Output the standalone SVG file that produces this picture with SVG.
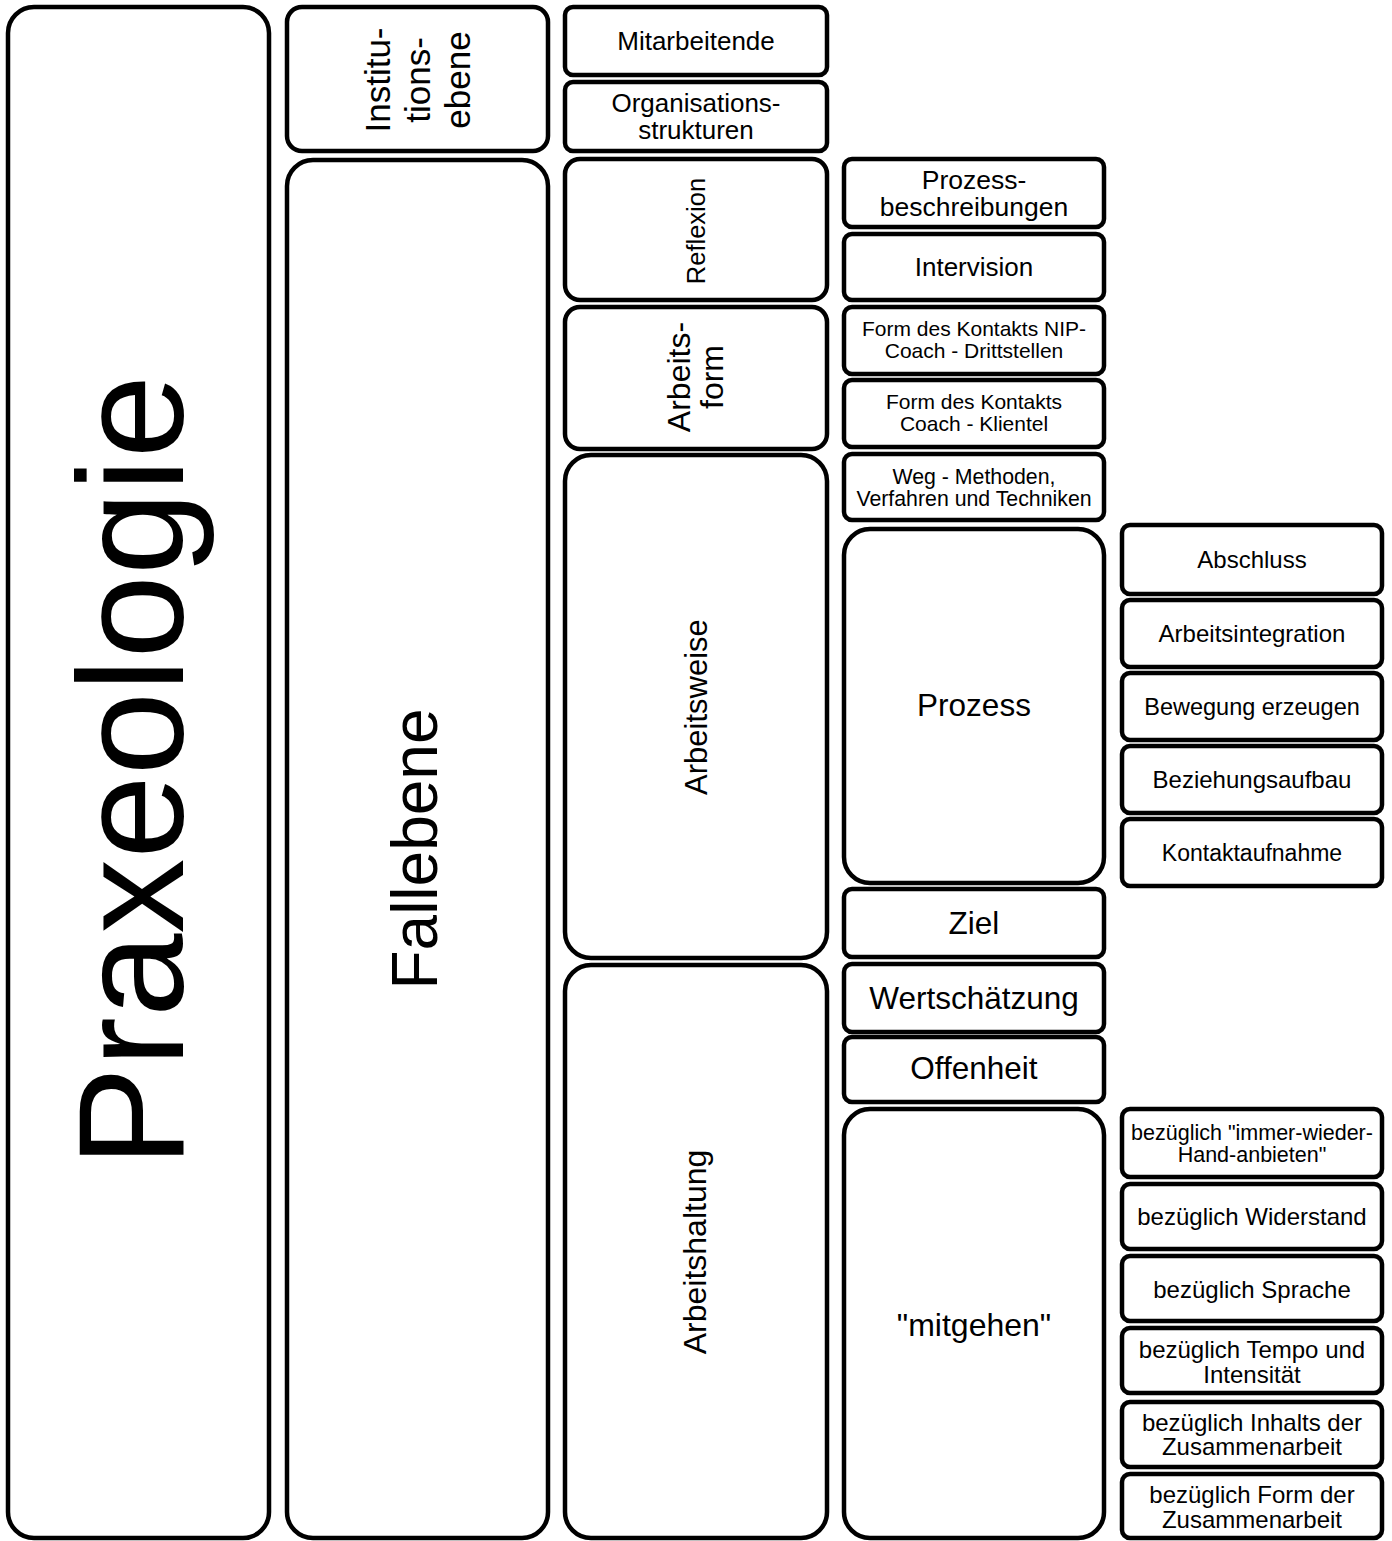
<svg xmlns="http://www.w3.org/2000/svg" width="1392" height="1541" viewBox="0 0 1392 1541">
<style>
rect{fill:#fff;stroke:#000;stroke-width:4.5}
text{font-family:"Liberation Sans",Arial,sans-serif;fill:#000;text-anchor:middle}
.f24{font-size:24px}.f26{font-size:26px}.f21{font-size:21.3px}.f32{font-size:32px}
</style>
<rect x="0" y="0" width="1392" height="1541" style="stroke:none"/>
<g id="connectors"/>
<g id="praxeologie"><rect x="8" y="7" width="261" height="1531" rx="26"/><text transform="translate(183,771) rotate(-90)" style="font-size:150px">Praxeologie</text></g>
<g id="institutionsebene"><rect x="287" y="7" width="261" height="144" rx="15"/><text transform="translate(390,80) rotate(-90)" style="font-size:35px"><tspan x="0" y="0">Institu-</tspan><tspan x="0" dy="40">tions-</tspan><tspan x="0" dy="40">ebene</tspan></text></g>
<g id="fallebene"><rect x="287" y="160" width="261" height="1378" rx="26"/><text transform="translate(437,849) rotate(-90)" style="font-size:64px">Fallebene</text></g>
<g id="mitarbeitende"><rect x="565" y="7" width="262" height="68" rx="8"/><text class="f26" x="696" y="50">Mitarbeitende</text></g>
<g id="organisationsstrukturen"><rect x="565" y="82" width="262" height="69" rx="8"/><text class="f26" x="696" y="112">Organisations-<tspan x="696" y="139">strukturen</tspan></text></g>
<g id="reflexion"><rect x="565" y="159" width="262" height="141" rx="15"/><text transform="translate(705,231) rotate(-90)" style="font-size:25.5px">Reflexion</text></g>
<g id="arbeitsform"><rect x="565" y="307" width="262" height="142" rx="15"/><text class="f32" transform="translate(690,377) rotate(-90)"><tspan x="0" y="0">Arbeits-</tspan><tspan x="0" dy="33">form</tspan></text></g>
<g id="arbeitsweise"><rect x="565" y="455" width="262" height="503" rx="26"/><text transform="translate(707,707) rotate(-90)" style="font-size:31px">Arbeitsweise</text></g>
<g id="arbeitshaltung"><rect x="565" y="965" width="262" height="573" rx="26"/><text class="f32" transform="translate(706,1252) rotate(-90)">Arbeitshaltung</text></g>
<g id="prozessbeschreibungen"><rect x="844" y="159" width="260" height="68" rx="8"/><text x="974" y="189" style="font-size:26.5px">Prozess-<tspan x="974" y="216">beschreibungen</tspan></text></g>
<g id="intervision"><rect x="844" y="234" width="260" height="66" rx="8"/><text class="f26" x="974" y="276">Intervision</text></g>
<g id="kontakt-drittstellen"><rect x="844" y="307" width="260" height="67" rx="8"/><text x="974" y="336" style="font-size:21px">Form des Kontakts NIP-<tspan x="974" y="358">Coach - Drittstellen</tspan></text></g>
<g id="kontakt-klientel"><rect x="844" y="380" width="260" height="67" rx="8"/><text x="974" y="409" style="font-size:21px">Form des Kontakts<tspan x="974" y="431">Coach - Klientel</tspan></text></g>
<g id="weg"><rect x="844" y="454" width="260" height="66" rx="8"/><text class="f21" x="974" y="484">Weg - Methoden,<tspan x="974" y="506">Verfahren und Techniken</tspan></text></g>
<g id="prozess"><rect x="844" y="529" width="260" height="354" rx="26"/><text x="974" y="716" style="font-size:31.5px">Prozess</text></g>
<g id="ziel"><rect x="844" y="889" width="260" height="68" rx="8"/><text x="974" y="934" style="font-size:31.5px">Ziel</text></g>
<g id="wertschaetzung"><rect x="844" y="964" width="260" height="68" rx="8"/><text x="974" y="1009" style="font-size:31.5px">Wertschätzung</text></g>
<g id="offenheit"><rect x="844" y="1037" width="260" height="65" rx="8"/><text x="974" y="1079" style="font-size:31.5px">Offenheit</text></g>
<g id="mitgehen"><rect x="844" y="1109" width="260" height="429" rx="26"/><text class="f32" x="974" y="1336">"mitgehen"</text></g>
<g id="abschluss"><rect x="1122" y="525" width="260" height="69" rx="8"/><text class="f24" x="1252" y="568">Abschluss</text></g>
<g id="arbeitsintegration"><rect x="1122" y="600" width="260" height="67" rx="8"/><text class="f24" x="1252" y="642">Arbeitsintegration</text></g>
<g id="bewegung"><rect x="1122" y="673" width="260" height="67" rx="8"/><text x="1252" y="715" style="font-size:23.5px">Bewegung erzeugen</text></g>
<g id="beziehungsaufbau"><rect x="1122" y="746" width="260" height="67" rx="8"/><text class="f24" x="1252" y="788">Beziehungsaufbau</text></g>
<g id="kontaktaufnahme"><rect x="1122" y="819" width="260" height="67" rx="8"/><text x="1252" y="861" style="font-size:23px">Kontaktaufnahme</text></g>
<g id="immer-wieder"><rect x="1122" y="1109" width="260" height="68" rx="8"/><text x="1252" y="1140" style="font-size:21.5px">bezüglich "immer-wieder-<tspan x="1252" y="1162">Hand-anbieten"</tspan></text></g>
<g id="widerstand"><rect x="1122" y="1184" width="260" height="65" rx="8"/><text class="f24" x="1252" y="1225">bezüglich Widerstand</text></g>
<g id="sprache"><rect x="1122" y="1256" width="260" height="65" rx="8"/><text class="f24" x="1252" y="1298">bezüglich Sprache</text></g>
<g id="tempo"><rect x="1122" y="1328" width="260" height="65" rx="8"/><text class="f24" x="1252" y="1358">bezüglich Tempo und<tspan x="1252" y="1383">Intensität</tspan></text></g>
<g id="inhalt"><rect x="1122" y="1402" width="260" height="65" rx="8"/><text class="f24" x="1252" y="1431">bezüglich Inhalts der<tspan x="1252" y="1455">Zusammenarbeit</tspan></text></g>
<g id="form"><rect x="1122" y="1474" width="260" height="64" rx="8"/><text class="f24" x="1252" y="1503">bezüglich Form der<tspan x="1252" y="1528">Zusammenarbeit</tspan></text></g>
</svg>
